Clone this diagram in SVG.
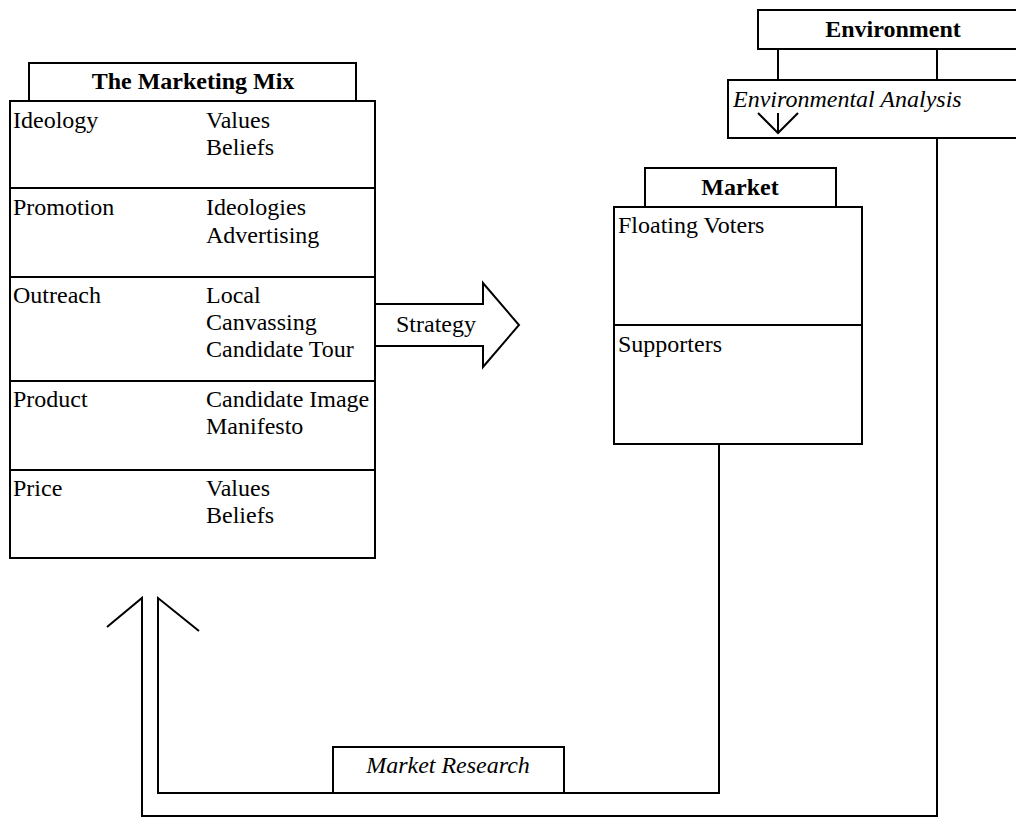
<svg xmlns="http://www.w3.org/2000/svg" width="1016" height="817" viewBox="0 0 1016 817">
<style>
.box{fill:#fff;stroke:#000;stroke-width:2}
.ln{fill:none;stroke:#000;stroke-width:2}
text{font-family:"Liberation Serif","Times New Roman",serif;font-size:24px;fill:#000}
.b{font-weight:bold}
.i{font-style:italic}
.c{text-anchor:middle}
</style>
<rect width="1016" height="817" fill="#fff"/>
<g id="connectors">
<polyline class="ln" points="719,444 719,793 158,793 158,598 199,631"/>
<polyline class="ln" points="937,138 937,816 142,816 142,598 107,627"/>
<line class="ln" x1="778" y1="49" x2="778" y2="80"/>
<line class="ln" x1="937" y1="49" x2="937" y2="80"/>
</g>
<g id="strategy">
<polygon class="box" points="375,304 483,304 483,283 519,325 483,367 483,346 375,346"/>
<text x="396" y="332">Strategy</text>
</g>
<g id="environment">
<rect class="box" x="758" y="10" width="270" height="39"/>
<text class="b c" x="893" y="37">Environment</text>
</g>
<g id="environmental-analysis">
<rect class="box" x="728" y="80" width="300" height="58"/>
<text class="i" x="733" y="107">Environmental Analysis</text>
<polyline class="ln" points="758,113 778,133 798,113"/>
<line class="ln" x1="778" y1="113" x2="778" y2="133"/>
</g>
<g id="marketing-mix">
<rect class="box" x="29" y="63" width="327" height="38"/>
<text class="b c" x="193" y="89">The Marketing Mix</text>
<rect class="box" x="10" y="101" width="365" height="457"/>
<line class="ln" x1="10" y1="188" x2="375" y2="188"/>
<line class="ln" x1="10" y1="277" x2="375" y2="277"/>
<line class="ln" x1="10" y1="381" x2="375" y2="381"/>
<line class="ln" x1="10" y1="470" x2="375" y2="470"/>
<text x="13" y="128">Ideology</text>
<text x="206" y="128">Values</text>
<text x="206" y="155">Beliefs</text>
<text x="13" y="215">Promotion</text>
<text x="206" y="215">Ideologies</text>
<text x="206" y="243">Advertising</text>
<text x="13" y="303">Outreach</text>
<text x="206" y="303">Local</text>
<text x="206" y="330">Canvassing</text>
<text x="206" y="357">Candidate Tour</text>
<text x="13" y="407">Product</text>
<text x="206" y="407">Candidate Image</text>
<text x="206" y="434">Manifesto</text>
<text x="13" y="496">Price</text>
<text x="206" y="496">Values</text>
<text x="206" y="523">Beliefs</text>
</g>
<g id="market">
<rect class="box" x="645" y="168" width="191" height="39"/>
<text class="b c" x="740" y="195">Market</text>
<rect class="box" x="614" y="207" width="248" height="237"/>
<line class="ln" x1="614" y1="325" x2="862" y2="325"/>
<text x="618" y="233">Floating Voters</text>
<text x="618" y="352">Supporters</text>
</g>
<g id="market-research">
<rect class="box" x="333" y="747" width="231" height="46"/>
<text class="i c" x="448" y="773">Market Research</text>
</g>
</svg>
